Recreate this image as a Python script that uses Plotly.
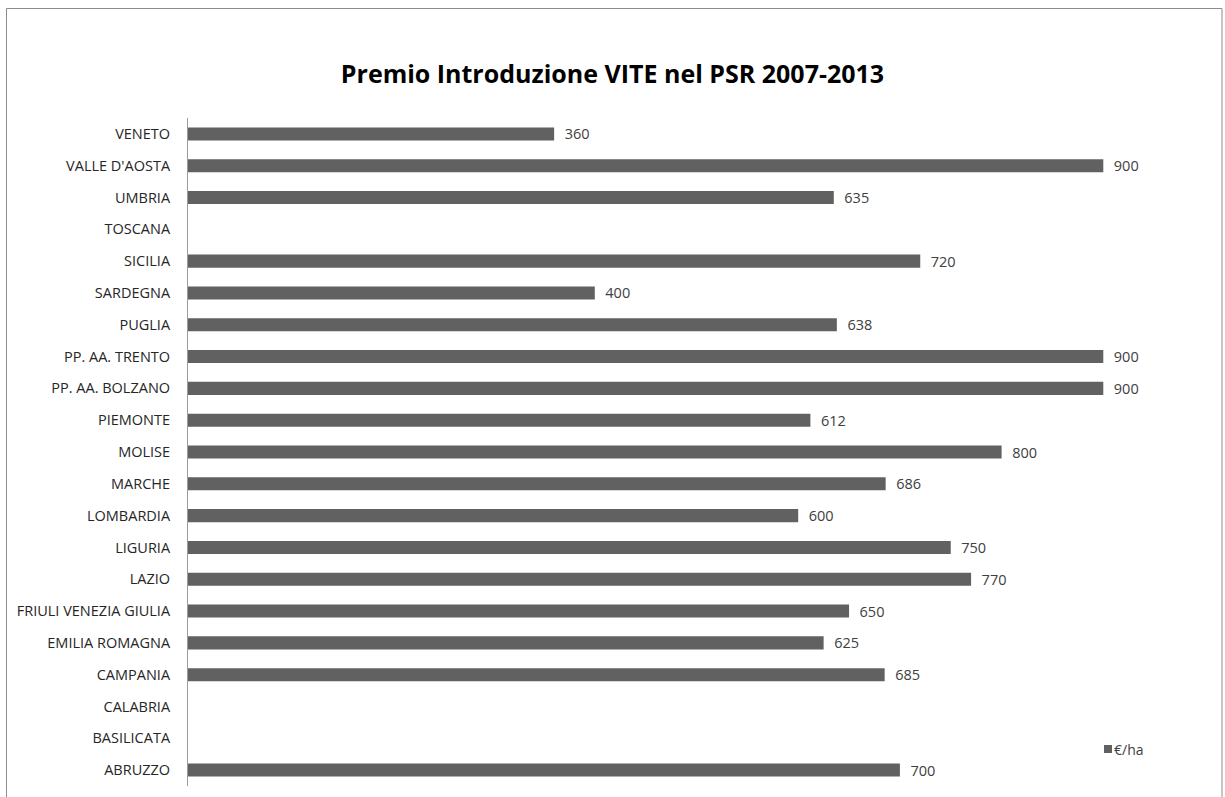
import plotly.graph_objects as go

# Regions listed bottom to top as they appear on the category axis
regioni = [
    "ABRUZZO", "BASILICATA", "CALABRIA", "CAMPANIA", "EMILIA ROMAGNA",
    "FRIULI VENEZIA GIULIA", "LAZIO", "LIGURIA", "LOMBARDIA", "MARCHE",
    "MOLISE", "PIEMONTE", "PP. AA. BOLZANO", "PP. AA. TRENTO", "PUGLIA",
    "SARDEGNA", "SICILIA", "TOSCANA", "UMBRIA", "VALLE D'AOSTA", "VENETO",
]
premio = [
    700, None, None, 685, 625,
    650, 770, 750, 600, 686,
    800, 612, 900, 900, 638,
    400, 720, None, 635, 900, 360,
]
serie = "€/ha"

BAR = "#616161"
FONT = "Open Sans"

# Plot area in pixels (used to place the frame and the legend key)
W, H = 1225, 797
L, R, T, B = 188, 20, 118, 11
PW, PH = W - L - R, H - T - B


def px_x(x):
    return (x - L) / PW


def px_y(y):
    return (H - B - y) / PH


fig = go.Figure()
fig.add_trace(go.Bar(
    y=regioni,
    x=premio,
    orientation="h",
    name=serie,
    marker=dict(color=BAR, line=dict(width=0)),
    text=[f"\u00a0\u00a0{v}" if v is not None else "" for v in premio],
    textposition="outside",
    constraintext="none",
    textfont=dict(family=FONT, size=14.5, color="#404040"),
    cliponaxis=False,
    showlegend=False,
))

# Legend: small square key plus the series name
fig.add_annotation(
    xref="paper", yref="paper",
    x=px_x(1112), y=px_y(749),
    xanchor="left", yanchor="middle", showarrow=False,
    text=serie,
    font=dict(family=FONT, size=14, color="#404040"),
)

fig.update_layout(
    width=W, height=H,
    paper_bgcolor="white", plot_bgcolor="white",
    margin=dict(l=L, r=R, t=T, b=B),
    bargap=0.59,
    showlegend=False,
    title=dict(
        text="<b>Premio Introduzione VITE nel PSR 2007-2013</b>",
        font=dict(family=FONT, size=25, color="#000000"),
        x=0.5, xanchor="center", xref="container",
        y=1 - 74 / H, yanchor="middle", yref="container",
    ),
    xaxis=dict(range=[0, 1000], visible=False, fixedrange=True),
    yaxis=dict(
        type="category",
        categoryorder="array", categoryarray=regioni,
        showline=True, linecolor="#9a9a9a", linewidth=1,
        showgrid=False, ticks="", ticklabelstandoff=14,
        tickfont=dict(family=FONT, size=14.5, color="#262626"),
        zeroline=False,
    ),
    shapes=[
        dict(
            type="rect", xref="paper", yref="paper",
            x0=px_x(6.5), x1=px_x(1222),
            y0=-0.1, y1=px_y(8.5),
            line=dict(color="#8c8c8c", width=1),
            fillcolor="rgba(0,0,0,0)", layer="below",
        ),
        dict(
            type="rect", xref="paper", yref="paper",
            x0=px_x(1104), x1=px_x(1112),
            y0=px_y(753), y1=px_y(745),
            line=dict(width=0), fillcolor=BAR,
        ),
    ],
)

fig.write_html("out.html")
